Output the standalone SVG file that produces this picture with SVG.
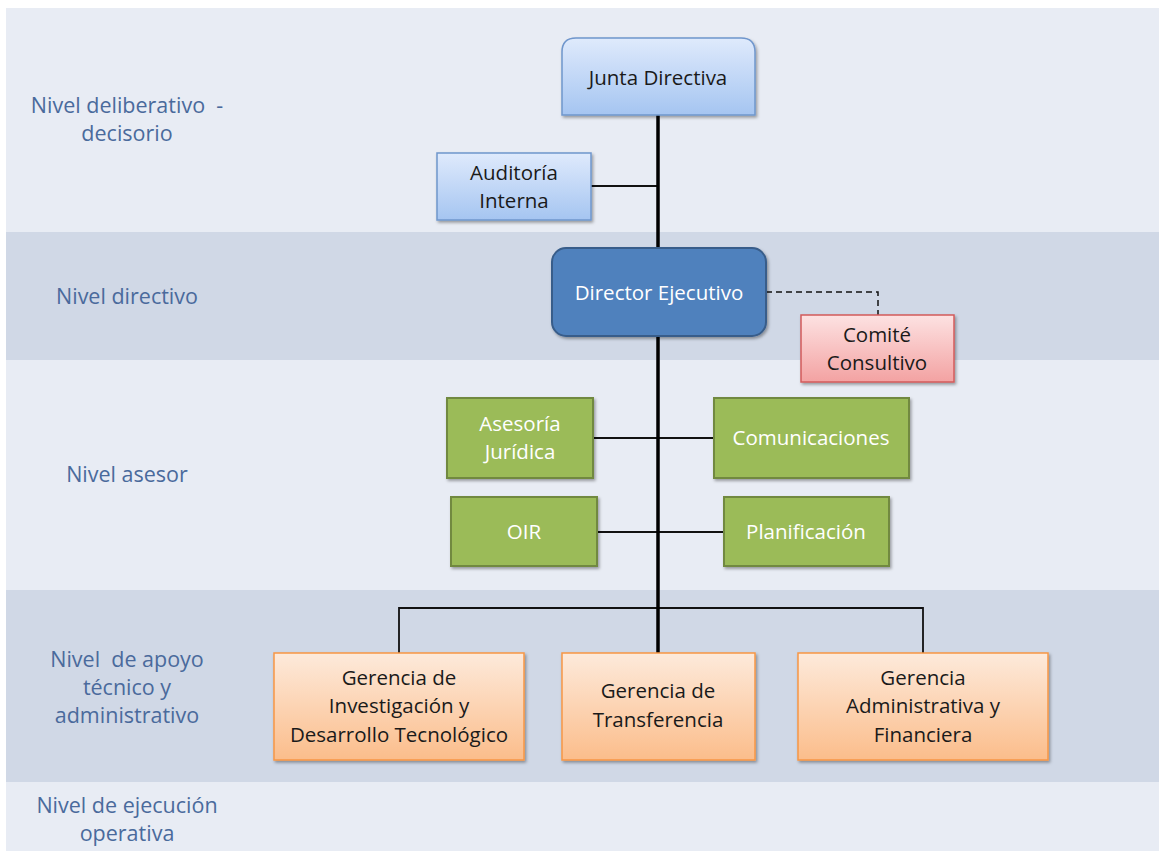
<svg xmlns="http://www.w3.org/2000/svg" width="1159" height="851" viewBox="0 0 1159 851">
<defs>
<linearGradient id="gBlue" x1="0" y1="0" x2="0" y2="1"><stop offset="0" stop-color="#dfeafc"/><stop offset="1" stop-color="#a5c5f1"/></linearGradient>
<linearGradient id="gPink" x1="0" y1="0" x2="0" y2="1"><stop offset="0" stop-color="#fde2e2"/><stop offset="1" stop-color="#f3a2a2"/></linearGradient>
<linearGradient id="gOrange" x1="0" y1="0" x2="0" y2="1"><stop offset="0" stop-color="#fdeadb"/><stop offset="1" stop-color="#fbbd8b"/></linearGradient>
<filter id="sh" x="-10%" y="-10%" width="125%" height="130%"><feDropShadow dx="1.5" dy="2" stdDeviation="1.5" flood-color="#000" flood-opacity="0.35"/></filter>
<style>
.lvl{font-family:"Open Sans","Liberation Sans",sans-serif;font-size:21.5px;fill:#4a6a9c;text-anchor:middle}
.t{font-family:"Open Sans","Liberation Sans",sans-serif;font-size:20.5px;text-anchor:middle}
.dk{fill:#1a1a1a}
.wh{fill:#ffffff}
.blue{fill:url(#gBlue);stroke:#6f96cc;stroke-width:1.5;filter:url(#sh)}
.dir{fill:#4f81bd;stroke:#385d8a;stroke-width:2;filter:url(#sh)}
.pink{fill:url(#gPink);stroke:#d25b5b;stroke-width:1.5;filter:url(#sh)}
.green{fill:#9bbb59;stroke:#71893f;stroke-width:2;filter:url(#sh)}
.orange{fill:url(#gOrange);stroke:#f79646;stroke-width:1.5;filter:url(#sh)}
.thin{stroke:#111;stroke-width:1.8;fill:none}
.thick{stroke:#000;stroke-width:3.5;fill:none}
.dash{stroke:#111;stroke-width:1.5;fill:none;stroke-dasharray:6 4}
</style>
</defs>
<rect width="1159" height="851" fill="#ffffff"/>
<g id="bands">
<rect x="6" y="8" width="1153" height="224" fill="#e8ecf4"/>
<rect x="6" y="232" width="1153" height="128" fill="#d0d8e6"/>
<rect x="6" y="360" width="1153" height="230" fill="#e8ecf4"/>
<rect x="6" y="590" width="1153" height="192" fill="#d0d8e6"/>
<rect x="6" y="782" width="1153" height="69" fill="#e8ecf4"/>
</g>
<g id="levels">
<text class="lvl" x="127" y="113" xml:space="preserve">Nivel deliberativo  -</text>
<text class="lvl" x="127" y="141">decisorio</text>
<text class="lvl" x="127" y="304">Nivel directivo</text>
<text class="lvl" x="127" y="482">Nivel asesor</text>
<text class="lvl" x="127" y="667" xml:space="preserve">Nivel  de apoyo</text>
<text class="lvl" x="127" y="695">técnico y</text>
<text class="lvl" x="127" y="723">administrativo</text>
<text class="lvl" x="127" y="813">Nivel de ejecución</text>
<text class="lvl" x="127" y="841">operativa</text>
</g>
<g id="connectors">
<line class="thin" x1="591" y1="186" x2="658" y2="186"/>
<line class="thin" x1="593" y1="438" x2="714" y2="438"/>
<line class="thin" x1="597" y1="532" x2="724" y2="532"/>
<polyline class="thin" points="399,653 399,608 923,608 923,653"/>
<polyline class="dash" points="766,292 878,292 878,315"/>
<line class="thick" x1="658" y1="115" x2="658" y2="653"/>
</g>
<g id="junta">
<path class="blue" d="M576,38 H741 Q755,38 755,52 V115 H562 V52 Q562,38 576,38 Z"/>
<text class="t dk" x="658" y="85">Junta Directiva</text>
</g>
<g id="auditoria">
<rect class="blue" x="437" y="153" width="154" height="67"/>
<text class="t dk" x="514" y="180">Auditoría</text>
<text class="t dk" x="514" y="208">Interna</text>
</g>
<g id="director">
<rect class="dir" x="552" y="248" width="214" height="88" rx="14"/>
<text class="t wh" x="659" y="300">Director Ejecutivo</text>
</g>
<g id="comite">
<rect class="pink" x="801" y="315" width="153" height="67"/>
<text class="t dk" x="877" y="342">Comité</text>
<text class="t dk" x="877" y="370">Consultivo</text>
</g>
<g id="asesoria">
<rect class="green" x="447" y="398" width="146" height="80"/>
<text class="t wh" x="520" y="431">Asesoría</text>
<text class="t wh" x="520" y="459">Jurídica</text>
</g>
<g id="comunicaciones">
<rect class="green" x="714" y="398" width="195" height="80"/>
<text class="t wh" x="811" y="445">Comunicaciones</text>
</g>
<g id="oir">
<rect class="green" x="451" y="497" width="146" height="69"/>
<text class="t wh" x="524" y="539">OIR</text>
</g>
<g id="planificacion">
<rect class="green" x="724" y="497" width="165" height="69"/>
<text class="t wh" x="806" y="539">Planificación</text>
</g>
<g id="gerencia-investigacion">
<rect class="orange" x="274" y="653" width="250" height="107"/>
<text class="t dk" x="399" y="685">Gerencia de</text>
<text class="t dk" x="399" y="713">Investigación y</text>
<text class="t dk" x="399" y="742">Desarrollo Tecnológico</text>
</g>
<g id="gerencia-transferencia">
<rect class="orange" x="562" y="653" width="193" height="107"/>
<text class="t dk" x="658" y="698">Gerencia de</text>
<text class="t dk" x="658" y="727">Transferencia</text>
</g>
<g id="gerencia-administrativa">
<rect class="orange" x="798" y="653" width="250" height="107"/>
<text class="t dk" x="923" y="685">Gerencia</text>
<text class="t dk" x="923" y="713">Administrativa y</text>
<text class="t dk" x="923" y="742">Financiera</text>
</g>
</svg>
